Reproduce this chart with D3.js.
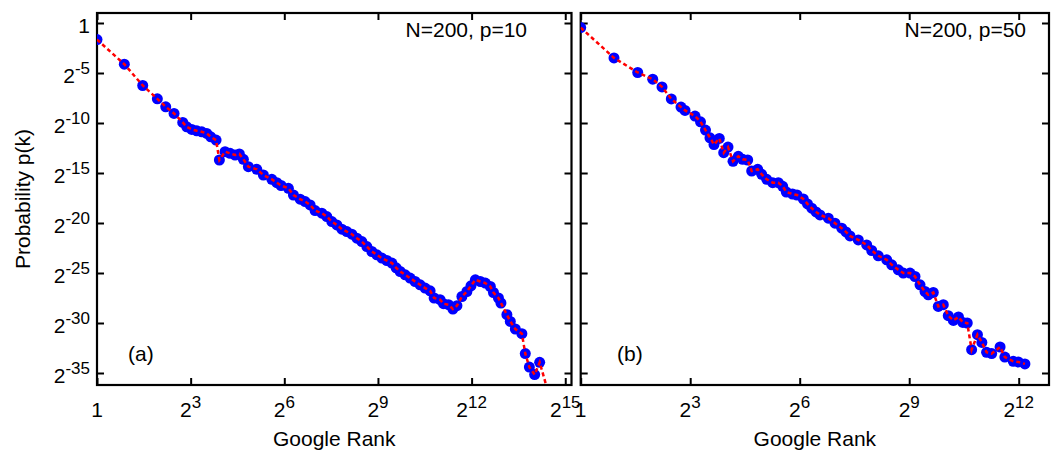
<!DOCTYPE html>
<html>
<head>
<meta charset="utf-8">
<script src="https://cdn.jsdelivr.net/npm/d3@7"></script>
<style>
body { margin: 0; background: #fff; }
text { font-family: "Liberation Sans", Arial, Helvetica, sans-serif; fill: #000; }
</style>
</head>
<body>
<svg id="chart" width="1051" height="453"></svg>
<script>
// log2 of Google rank and log2 of probability
const rankLog2A = [0, 0.875, 1.465, 1.933, 2.202, 2.468, 2.747, 2.875, 3.035, 3.196, 3.356, 3.516, 3.644, 3.814,
    3.92, 4.103, 4.263, 4.423, 4.561, 4.689, 4.849, 5.119, 5.33, 5.6, 5.76, 5.897, 6.131, 6.292, 6.506, 6.667,
    6.827, 6.987, 7.202, 7.362, 7.522, 7.683, 7.843, 8.003, 8.163, 8.324, 8.484, 8.644, 8.804, 8.965, 9.125,
    9.285, 9.446, 9.583, 9.712, 9.872, 10.03, 10.19, 10.35, 10.51, 10.67, 10.80, 10.99, 11.10, 11.26, 11.40,
    11.53, 11.69, 11.85, 11.98, 12.12, 12.28, 12.44, 12.60, 12.70, 12.86, 12.94, 13.13, 13.24, 13.40, 13.61,
    13.72, 13.85, 14.02, 14.18, 14.52]
const probLog2A = [-1.66, -4.12, -6.25, -7.58, -8.38, -9.04, -9.94, -10.38, -10.64, -10.78, -10.88, -11.04, -11.38, -11.71,
    -13.70, -12.87, -13.03, -13.2, -13.10, -13.63, -14.37, -14.63, -15.2, -15.63, -15.97, -16.25, -16.53, -17.2, -17.62, -17.86,
    -18.19, -18.76, -19.02, -19.36, -19.86, -20.19, -20.62, -20.86, -21.12, -21.52, -21.86, -22.36, -22.85, -23.18, -23.51,
    -23.75, -24.01, -24.48, -24.85, -25.18, -25.51, -25.85, -26.18, -26.51, -26.78, -27.5, -27.67, -28.07, -28.17, -28.6,
    -28.27, -27.35, -26.85, -26.28, -25.68, -25.85, -26.01, -26.35, -26.95, -27.5, -28.0, -29.17, -29.84, -30.6, -31.07,
    -33.06, -34.41, -35.16, -33.93, -37.65]

const rankLog2B = [0, 0.912, 1.562, 1.973, 2.227, 2.482, 2.748, 2.858, 3.132, 3.282, 3.419, 3.542, 3.652, 3.797,
    3.918, 4.036, 4.173, 4.318, 4.438, 4.575, 4.685, 4.849, 4.959, 5.096, 5.26, 5.414, 5.534, 5.633, 5.803, 5.926,
    6.099, 6.214, 6.329, 6.447, 6.556, 6.784, 6.967, 7.151, 7.268, 7.378, 7.605, 7.836, 7.973, 8.153, 8.384,
    8.521, 8.701, 8.838, 9.022, 9.159, 9.296, 9.433, 9.523, 9.66, 9.797, 9.934, 10.07, 10.21, 10.35, 10.47,
    10.59, 10.71, 10.87, 10.99, 11.12, 11.26, 11.49, 11.62, 11.85, 11.99, 12.17]
const probLog2B = [-0.46, -3.49, -4.95, -5.62, -6.39, -7.59, -8.41, -8.74, -9.31, -9.88, -10.71, -11.48, -12.16, -11.54,
    -12.97, -12.41, -13.83, -13.33, -13.63, -13.70, -14.80, -14.63, -15.13, -15.63, -15.97, -15.97, -16.33, -16.9, -17.1, -17.2,
    -17.6, -18.09, -18.52, -18.89, -19.19, -19.52, -20.02, -20.52, -20.89, -21.29, -21.69, -22.19, -22.75, -23.28, -23.68,
    -24.18, -24.68, -25.01, -25.01, -25.35, -26.18, -26.85, -27.18, -26.95, -28.34, -28.17, -29.27, -29.74, -29.40, -29.94,
    -30.0, -32.67, -31.17, -31.94, -32.93, -33.06, -32.4, -33.41, -33.83, -33.89, -34.09]

const xTickExpA = [0, 3, 6, 9, 12, 15]
const xTickExpB = [0, 3, 6, 9, 12]
const yTickExp = [0, -5, -10, -15, -20, -25, -30, -35]

const plotTop = 13, plotBottom = 385, tickLen = 7

var svg = d3.select('#chart')

var y = d3.scaleLog().base(2)
    .domain([Math.pow(2, -36.2), Math.pow(2, 1)])
    .range([plotBottom, plotTop])

function powLabel(sel, e) {
    if (e === 0) {
	sel.text('1')
	return
    }
    sel.text('2')
    sel.append('tspan').attr('dy', -9).attr('font-size', 17).text(e)
}

function drawPanel(p) {
    var x = d3.scaleLog().base(2)
	.domain([1, Math.pow(2, p.maxExp)])
	.range([p.left, p.right])
    var g = svg.append('g')
    var pts = p.rank.map((r, i) => ({ r: Math.pow(2, r), p: Math.pow(2, p.prob[i]) }))

    g.append('clipPath').attr('id', `clip-${p.id}`)
	.append('rect')
	.attr('x', p.left).attr('y', plotTop)
	.attr('width', p.right - p.left).attr('height', plotBottom - plotTop)

    // ticks on all four sides, pointing inward
    var xt = xTick => xTick.map(e => Math.pow(2, e))
    var yt = yTickExp.map(e => Math.pow(2, e))
    var axes = [
	[d3.axisBottom(x).tickValues(xt(p.xTicks)), `translate(0,${plotBottom})`],
	[d3.axisTop(x).tickValues(xt(p.xTicks)), `translate(0,${plotTop})`],
	[d3.axisLeft(y).tickValues(yt), `translate(${p.left},0)`],
	[d3.axisRight(y).tickValues(yt), `translate(${p.right},0)`]
    ]
    axes.forEach(([ax, tr]) => {
	var a = g.append('g').attr('transform', tr)
	    .call(ax.tickSizeInner(-tickLen).tickSizeOuter(0).tickFormat(''))
	a.select('.domain').remove()
	a.selectAll('line').attr('stroke', '#000').attr('stroke-width', 2)
    })

    g.append('rect')
	.attr('x', p.left).attr('y', plotTop)
	.attr('width', p.right - p.left).attr('height', plotBottom - plotTop)
	.attr('fill', 'none').attr('stroke', '#000').attr('stroke-width', 2.2)

    // tick labels
    p.xTicks.forEach(e => {
	g.append('text')
	    .attr('x', x(Math.pow(2, e))).attr('y', 417)
	    .attr('text-anchor', 'middle').attr('font-size', 21)
	    .call(powLabel, e)
    })
    if (p.yLabels) {
	yTickExp.forEach(e => {
	    g.append('text')
		.attr('x', p.left - 7).attr('y', y(Math.pow(2, e)) + 10)
		.attr('text-anchor', 'end').attr('font-size', 21)
		.call(powLabel, e)
	})
    }

    var data = g.append('g').attr('clip-path', `url(#clip-${p.id})`)
    data.selectAll('circle')
	.data(pts.filter(d => d.p >= y.domain()[0]))
	.join('circle')
	.attr('cx', d => x(d.r)).attr('cy', d => y(d.p))
	.attr('r', 5.5).attr('fill', '#0000ff')
    data.append('path')
	.datum(pts)
	.attr('d', d3.line().x(d => x(d.r)).y(d => y(d.p)))
	.attr('fill', 'none').attr('stroke', '#ff0000')
	.attr('stroke-width', 2.5).attr('stroke-dasharray', '4,3')

    g.append('text')
	.attr('x', p.noteX).attr('y', 37)
	.attr('text-anchor', 'end').attr('font-size', 21)
	.text(p.note)
    g.append('text')
	.attr('x', p.tagX).attr('y', 361)
	.attr('font-size', 21)
	.text(p.tag)
    g.append('text')
	.attr('x', (p.left + p.right) / 2).attr('y', 446)
	.attr('text-anchor', 'middle').attr('font-size', 21)
	.text('Google Rank')
}

drawPanel({ id: 'a', left: 97, right: 571.5, maxExp: 15.2, rank: rankLog2A, prob: probLog2A,
    xTicks: xTickExpA, yLabels: true, note: 'N=200, p=10', noteX: 527, tag: '(a)', tagX: 128 })
drawPanel({ id: 'b', left: 580.7, right: 1049, maxExp: 12.83, rank: rankLog2B, prob: probLog2B,
    xTicks: xTickExpB, yLabels: false, note: 'N=200, p=50', noteX: 1026, tag: '(b)', tagX: 617 })

svg.append('text')
    .attr('transform', `translate(30,${(plotTop + plotBottom) / 2}) rotate(-90)`)
    .attr('text-anchor', 'middle').attr('font-size', 21)
    .text('Probability p(k)')
</script>
</body>
</html>
